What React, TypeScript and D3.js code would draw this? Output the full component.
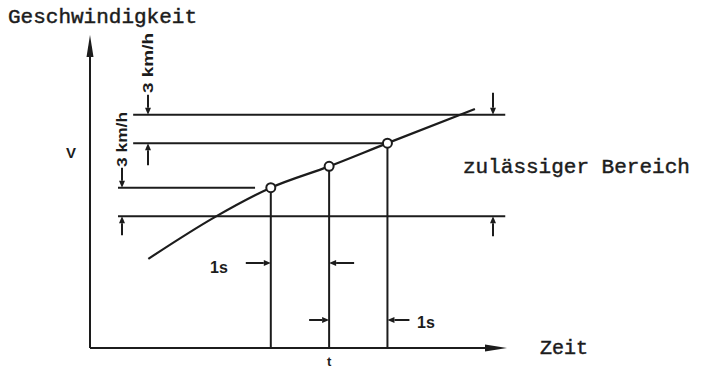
import React from "react";
import * as d3 from "d3";

// time in seconds relative to t; velocity in km/h (arbitrary origin)
const curveT = [-3.1, -1.96, -1, 0, 1, 2.5];
const curveV = [9.4, 13.8, 16.9, 19.15, 21.6, 25.2];
const pointT = [-1, 0, 1];
const pointV = [16.9, 19.15, 21.6];
const tolerance = 3; // km/h
const tickLabels = ["t"];
const axisLabels = { y: "Geschwindigkeit", x: "Zeit", v: "V" };
const bandLabel = "zulässiger Bereich";
const tolLabel = "3 km/h";
const timeLabel = "1s";

const W = 701;
const H = 368;
const INK = "#1c1c1c";

const x = d3.scaleLinear().domain([-4.1, 3.05]).range([90, 507]);
const y = d3.scaleLinear().domain([0, 33]).range([348, 35]);

function Arrow({ x1, y1, x2, y2, head = 7, w = 3 }: any) {
  const ang = Math.atan2(y2 - y1, x2 - x1);
  const bx = x2 - head * Math.cos(ang);
  const by = y2 - head * Math.sin(ang);
  const px = -Math.sin(ang) * w;
  const py = Math.cos(ang) * w;
  return (
    <g>
      <line x1={x1} y1={y1} x2={bx} y2={by} stroke={INK} strokeWidth={2} />
      <path
        d={`M${x2},${y2} L${bx + px},${by + py} L${bx - px},${by - py} Z`}
        fill={INK}
      />
    </g>
  );
}

export default function App() {
  const line = d3
    .line<number>()
    .x((_, i) => x(curveT[i]))
    .y((d) => y(d))
    .curve(d3.curveMonotoneX);

  const v1 = pointV[0];
  const v3 = pointV[2];
  const upper = v3 + tolerance;
  const lower = v1 - tolerance;
  const yU = y(upper);
  const y3 = y(v3);
  const y1 = y(v1);
  const yL = y(lower);
  const x0 = x(0);
  const xm1 = x(-1);
  const xp1 = x(1);

  const hLines = [
    { v: upper, t0: -3.36, t1: 3.02 },
    { v: v3, t0: -3.36, t1: 1 },
    { v: v1, t0: -3.62, t1: -1.27 },
    { v: lower, t0: -3.62, t1: 3.02 },
  ];

  const mono = "'Liberation Mono', 'DejaVu Sans Mono', monospace";
  const sansB = "'Liberation Sans', 'DejaVu Sans', sans-serif";
  const monoStyle = { stroke: INK, strokeWidth: 0.45 };

  return (
    <svg
      width={W}
      height={H}
      style={{ position: "absolute", left: 0, top: 0, background: "#fff" }}
    >
      <rect width={W} height={H} fill="#fff" />
      {/* axes */}
      <Arrow x1={x.range()[0]} y1={y.range()[0]} x2={x.range()[0]} y2={y.range()[1]} head={22} w={3.5} />
      <Arrow x1={x.range()[0]} y1={y.range()[0]} x2={x.range()[1]} y2={y.range()[0]} head={22} w={3.5} />

      {/* horizontal reference lines */}
      {hLines.map((h, i) => (
        <line key={i} x1={x(h.t0)} x2={x(h.t1)} y1={y(h.v)} y2={y(h.v)} stroke={INK} strokeWidth={2} />
      ))}

      {/* verticals */}
      {pointT.map((t, i) => (
        <line key={i} x1={x(t)} x2={x(t)} y1={y(pointV[i])} y2={y(0)} stroke={INK} strokeWidth={2} />
      ))}

      {/* curve */}
      <path d={line(curveV) || ""} fill="none" stroke={INK} strokeWidth={2.2} />

      {/* points */}
      {pointT.map((t, i) => (
        <circle key={i} cx={x(t)} cy={y(pointV[i])} r={4.5} fill="#fff" stroke={INK} strokeWidth={2} />
      ))}

      {/* tolerance annotations */}
      <Arrow x1={148} y1={yU - 20} x2={148} y2={yU} />
      <Arrow x1={148} y1={y3 + 22} x2={148} y2={y3} />
      <Arrow x1={122} y1={y1 - 20} x2={122} y2={y1} />
      <Arrow x1={122} y1={yL + 19} x2={122} y2={yL} />
      <Arrow x1={493} y1={yU - 22} x2={493} y2={yU} />
      <Arrow x1={493} y1={yL + 20} x2={493} y2={yL} />
      <text
        transform={`translate(153,93) rotate(-90)`}
        fontFamily={sansB}
        fontWeight="bold"
        fontSize={15}
        fill={INK}
        textLength={60}
        lengthAdjust="spacingAndGlyphs"
      >
        {tolLabel}
      </text>
      <text
        transform={`translate(127,167) rotate(-90)`}
        fontFamily={sansB}
        fontWeight="bold"
        fontSize={15}
        fill={INK}
        textLength={55}
        lengthAdjust="spacingAndGlyphs"
      >
        {tolLabel}
      </text>

      {/* 1s annotations */}
      <Arrow x1={xm1 - 25} y1={263} x2={xm1} y2={263} />
      <Arrow x1={x0 + 25} y1={263} x2={x0} y2={263} />
      <text x={210} y={273} fontFamily={sansB} fontWeight="bold" fontSize={16} fill={INK}>
        {timeLabel}
      </text>
      <Arrow x1={x0 - 20} y1={320} x2={x0} y2={320} />
      <Arrow x1={xp1 + 22} y1={320} x2={xp1} y2={320} />
      <text x={417} y={328} fontFamily={sansB} fontWeight="bold" fontSize={16} fill={INK}>
        {timeLabel}
      </text>

      {/* labels */}
      <text x={8} y={23} fontFamily={mono} fontSize={21} fill={INK} {...monoStyle}>
        {axisLabels.y}
      </text>
      <text x={540} y={354} fontFamily={mono} fontSize={20} fill={INK} {...monoStyle}>
        {axisLabels.x}
      </text>
      <text x={463} y={173} fontFamily={mono} fontSize={21} fill={INK} {...monoStyle}>
        {bandLabel}
      </text>
      <text x={71} y={158} textAnchor="middle" fontFamily={sansB} fontWeight="bold" fontSize={15} fill={INK}>
        {axisLabels.v}
      </text>
      <text x={x0} y={366} textAnchor="middle" fontFamily={sansB} fontWeight="bold" fontSize={13} fill={INK}>
        {tickLabels[0]}
      </text>
    </svg>
  );
}
